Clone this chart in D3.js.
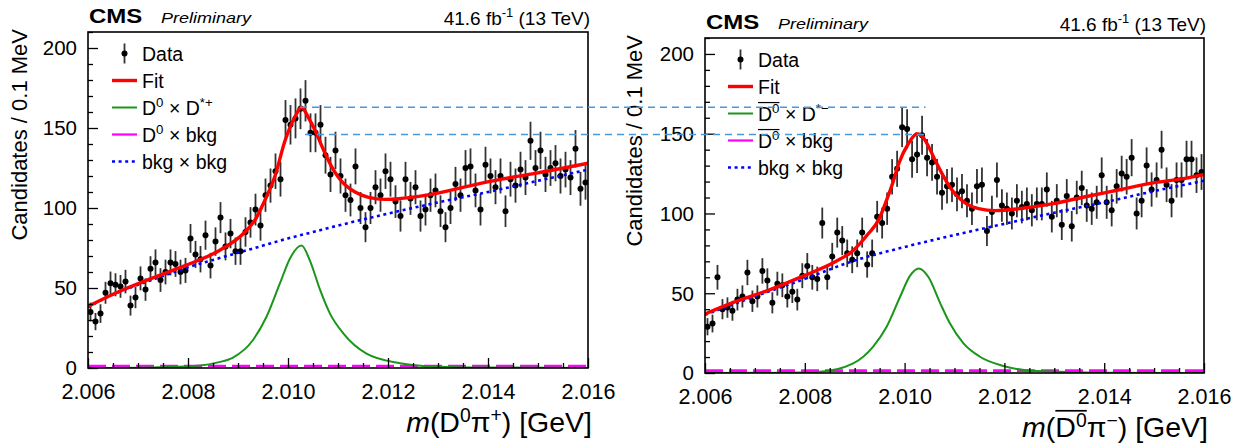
<!DOCTYPE html>
<html><head><meta charset="utf-8">
<script src="https://cdn.jsdelivr.net/npm/d3@7"></script>
<style>
html,body{margin:0;padding:0;background:#fff;}
svg{display:block;}
text{font-family:"Liberation Sans",Arial,Helvetica,sans-serif;fill:#000;}
</style></head><body>
<svg id="c" width="1252" height="447"></svg>
<script>
// ---------------- data ----------------
const massLow = 2.006, massHigh = 2.016, binWidth = 0.0001;
const yMax = 210;

// candidates per 0.1 MeV bin, D0 pi+ (left)
const countsPlus = [35,29,34,47,53,52,51,54,39,44, 56,49,62,66,55,60,66,65,60,61,
  81,71,68,83,64,79,94,76,84,73, 73,85,91,99,89,108,114,123,118,155,
  152,156,162,167,147,147,152,133,121,136, 120,108,105,126,100,88,100,113,108,123,
  118,104,95,118,106,113,95,99,108,111, 98,88,100,115,108,125,126,111,99,127,
  120,113,120,98,118,114,124,119,142,125, 136,121,125,128,120,124,119,137,112,116];
// candidates per 0.1 MeV bin, anti-D0 pi- (right)
const countsMinus = [29,31,60,40,41,39,46,48,63,45, 48,64,58,44,56,55,48,51,46,61,
  67,60,59,94,60,73,88,83,75,71, 75,88,68,75,98,94,103,123,128,154,
  153,134,137,149,135,132,123,113,117,118, 112,114,108,103,117,118,89,101,121,105,
  103,100,108,104,106,102,106,106,115,98, 108,93,111,92,110,116,105,103,107,124,
  107,102,117,125,123,135,100,108,130,115, 121,140,118,108,121,121,134,134,124,126];

// fit components, [mass, candidates]
const fitPlus = [[2.0060,38.5],[2.0066,47.5],[2.00727,56],[2.00794,64],[2.0086,73],[2.00914,85],
  [2.00934,92.5],[2.00954,105],[2.00974,120],[2.00994,142],[2.01014,157],[2.01027,163],[2.01040,157],
  [2.01055,148],[2.01070,137],[2.01087,126],[2.01100,119.5],[2.01114,114.5],[2.01134,110],[2.01161,106.7],
  [2.01194,105.4],[2.01227,106],[2.01294,109],[2.01361,113.7],[2.01427,118],[2.01494,121.6],[2.0160,128]];
const sigPlus = [[2.0060,0],[2.0070,0.2],[2.0078,0.8],[2.00824,1.5],[2.0086,3.5],[2.0089,6.5],[2.0093,17.5],
  [2.00957,32],[2.00984,53],[2.01004,68.5],[2.01027,76.5],[2.01044,67],[2.01064,49],[2.01084,34],
  [2.01111,21.5],[2.01157,9],[2.01224,3],[2.0129,1],[2.0140,0.3],[2.0160,0]];
const misPlus = [[2.006,1.2],[2.016,1.2]];
const bkgPlus = [[2.006,38],[2.0065,46],[2.007,52],[2.0075,57.5],[2.008,63],[2.0085,67.5],[2.009,72],
  [2.0095,76.5],[2.010,81],[2.0105,85],[2.011,89],[2.012,96.5],[2.013,103.5],[2.014,110],[2.015,117],[2.016,124]];

const fitMinus = [[2.0060,37],[2.00661,44.7],[2.00728,52],[2.00794,60.4],[2.00861,69.8],[2.00894,76],
  [2.00928,87.6],[2.00948,96],[2.00961,106],[2.00975,118],[2.00988,131],[2.01008,144],[2.01025,150],
  [2.01035,148.5],[2.01048,142],[2.01061,133.5],[2.01075,125],[2.01092,116],[2.01105,111],[2.01122,106.5],
  [2.01148,103],[2.01182,101.8],[2.01228,103],[2.01295,106],[2.01362,110.5],[2.01428,114.7],[2.01495,119],
  [2.01562,122],[2.0160,124.5]];
const sigMinus = [[2.0060,0],[2.0075,0.1],[2.0083,0.8],[2.00897,6],[2.00937,16.5],[2.00964,29],[2.00991,47.8],
  [2.01011,61],[2.01028,65.5],[2.01048,60],[2.01071,44],[2.01091,31],[2.01118,18.6],[2.01151,10.2],
  [2.01198,4.4],[2.01265,1.2],[2.0140,0.2],[2.0160,0]];
const misMinus = [[2.006,1.5],[2.016,1.5]];
const bkgMinus = [[2.006,36.5],[2.007,48],[2.008,59],[2.009,70.5],[2.010,79],[2.011,86.5],[2.012,93.5],
  [2.013,100.5],[2.014,107],[2.015,114],[2.016,120.5]];

// peak-height guide lines: mass start (left panel) to mass end (right panel), level in that panel's units
const guideUpper = {from: 2.01024, to: 2.01042, level: 163, panel: 0};
const guideLower = {from: 2.01034, to: 2.01040, level: 149.5, panel: 1};

const xTicksMajor = [2.006, 2.008, 2.010, 2.012, 2.014, 2.016];
const xTickLabels = ["2.006","2.008","2.010","2.012","2.014","2.016"];
const yTicksMajor = [0, 50, 100, 150, 200];
const yTickLabels = ["0","50","100","150","200"];

const yTitle = "Candidates / 0.1 MeV";
const lumiText = [{t:"41.6 fb"},{t:"-1",sup:true},{t:" (13 TeV)"}];
const legendPlus = [
  [{t:"Data"}], [{t:"Fit"}],
  [{t:"D"},{t:"0",sup:true},{t:" × D"},{t:"*+",sup:true}],
  [{t:"D"},{t:"0",sup:true},{t:" × bkg"}],
  [{t:"bkg × bkg"}]];
const legendMinus = [
  [{t:"Data"}], [{t:"Fit"}],
  [{t:"D",bar:true},{t:"0",sup:true,bar:true},{t:" × D"},{t:"*−",sup:true}],
  [{t:"D",bar:true},{t:"0",sup:true,bar:true},{t:" × bkg"}],
  [{t:"bkg × bkg"}]];
const xTitlePlus = [{t:"m",it:true},{t:"(D"},{t:"0",sup:true},{t:"π"},{t:"+",sup:true},{t:") [GeV]"}];
const xTitleMinus = [{t:"m",it:true},{t:"("},{t:"D",bar:true},{t:"0",sup:true,bar:true},{t:"π"},{t:"−",sup:true},{t:") [GeV]"}];

// ---------------- style / layout ----------------
const C = {fit:"#ff0000", sig:"#1a961a", mis:"#ff00ff", bkg:"#0000ff", guide:"#4a98dc", err:"#333333"};
const panels = [
  {counts: countsPlus, fit: fitPlus, sig: sigPlus, mis: misPlus, bkg: bkgPlus, legend: legendPlus, xTitle: xTitlePlus,
   xr:[88,588], yr:[368,32], legX:[24,49,54], titleDx:-61},
  {counts: countsMinus, fit: fitMinus, sig: sigMinus, mis: misMinus, bkg: bkgMinus, legend: legendMinus, xTitle: xTitleMinus,
   xr:[705,1204], yr:[373,38], legX:[23,48,53], titleDx:-63}
];

const svg = d3.select("#c");

function rich(parent, x, y, segs, size, o = {}) {
  const sx = o.sx || 1;
  const raise = size * (o.raise || 0.4);
  const g = parent.append("g").attr("transform", `translate(${x},${y}) rotate(${o.rotate||0}) scale(${sx},1)`);
  const t = g.append("text").attr("font-size", size).attr("text-anchor", o.anchor || "start");
  if (o.weight) t.attr("font-weight", o.weight);
  if (o.style) t.attr("font-style", o.style);
  let raised = false, idx = 0; const barIdx = [];
  segs.forEach(s => {
    const sp = t.append("tspan").text(s.t);
    if (s.sup) { sp.attr("font-size", size * 0.68); if (!raised) { sp.attr("dy", -raise); raised = true; } }
    else if (raised) { sp.attr("dy", raise); raised = false; }
    if (s.it) sp.attr("font-style", "italic");
    if (s.bar) for (let k = 0; k < s.t.length; k++) barIdx.push(idx + k);
    idx += s.t.length;
  });
  if (barIdx.length) {
    const n = t.node();
    const x0 = n.getStartPositionOfChar(barIdx[0]).x;
    const x1 = n.getEndPositionOfChar(barIdx[barIdx.length - 1]).x;
    g.append("line").attr("x1", x0).attr("x2", x1)
      .attr("y1", -size * 0.92).attr("y2", -size * 0.92)
      .attr("stroke", "#000").attr("stroke-width", Math.max(1.2, size * 0.06));
  }
  return g;
}

const scales = [];
panels.forEach((p, pi) => {
  const x = d3.scaleLinear().domain([massLow, massHigh]).range(p.xr);
  const y = d3.scaleLinear().domain([0, yMax]).range(p.yr);
  scales.push({x, y});
  const g = svg.append("g");
  const clipId = "clip" + pi;
  svg.append("clipPath").attr("id", clipId).append("rect")
    .attr("x", p.xr[0]).attr("y", p.yr[1]).attr("width", p.xr[1] - p.xr[0]).attr("height", p.yr[0] - p.yr[1]);

  const plot = g.append("g").attr("clip-path", `url(#${clipId})`);
  const centers = p.counts.map((c, i) => massLow + binWidth * (i + 0.5));

  // data with Poisson error bars
  plot.append("g").selectAll("line").data(p.counts).join("line")
    .attr("x1", (d, i) => x(centers[i])).attr("x2", (d, i) => x(centers[i]))
    .attr("y1", d => y(d - Math.sqrt(d))).attr("y2", d => y(d + Math.sqrt(d)))
    .attr("stroke", C.err).attr("stroke-width", 1.8);
  plot.append("g").selectAll("circle").data(p.counts).join("circle")
    .attr("cx", (d, i) => x(centers[i])).attr("cy", d => y(d)).attr("r", 3).attr("fill", "#000");

  const line = d3.line().x(d => x(d[0])).y(d => y(d[1])).curve(d3.curveMonotoneX);
  plot.append("path").attr("d", line(p.bkg)).attr("fill", "none").attr("stroke", C.bkg)
    .attr("stroke-width", 2.6).attr("stroke-dasharray", "3,3.6");
  plot.append("path").attr("d", line(p.mis)).attr("fill", "none").attr("stroke", C.mis)
    .attr("stroke-width", 2.6).attr("stroke-dasharray", "18,6");
  plot.append("path").attr("d", line(p.sig)).attr("fill", "none").attr("stroke", C.sig).attr("stroke-width", 2);
  plot.append("path").attr("d", line(p.fit)).attr("fill", "none").attr("stroke", C.fit).attr("stroke-width", 3.4);

  // axes
  const xMinor = d3.range(0, 21).map(k => massLow + 0.0005 * k).filter(v => !xTicksMajor.some(m => Math.abs(m - v) < 1e-9));
  const yMinor = d3.range(0, yMax + 1, 10).filter(v => !yTicksMajor.includes(v));
  const ax = g.append("g").attr("transform", `translate(0,${p.yr[0]})`);
  ax.append("g").call(d3.axisBottom(x).tickValues(xMinor).tickSize(-5).tickFormat(""));
  ax.append("g").call(d3.axisBottom(x).tickValues(xTicksMajor).tickSize(-10).tickFormat((d, i) => xTickLabels[i]));
  const ay = g.append("g").attr("transform", `translate(${p.xr[0]},0)`);
  ay.append("g").call(d3.axisLeft(y).tickValues(yMinor).tickSize(-5).tickFormat(""));
  ay.append("g").call(d3.axisLeft(y).tickValues(yTicksMajor).tickSize(-10).tickFormat((d, i) => yTickLabels[i]));
  g.selectAll(".domain").remove();
  g.selectAll(".tick line").attr("stroke", "#000").attr("stroke-width", 1.3);
  ax.selectAll(".tick text").attr("font-size", 21.5).attr("y", 31).attr("dy", 0)
    .attr("font-family", '"Liberation Sans",Arial,sans-serif').attr("fill", "#000");
  ay.selectAll(".tick text").attr("font-size", 20.5).attr("x", -11).attr("dy", "0.34em")
    .attr("font-family", '"Liberation Sans",Arial,sans-serif').attr("fill", "#000");

  // frame
  g.append("rect").attr("x", p.xr[0]).attr("y", p.yr[1]).attr("width", p.xr[1] - p.xr[0])
    .attr("height", p.yr[0] - p.yr[1]).attr("fill", "none").attr("stroke", "#000").attr("stroke-width", 1.6);

  // titles
  rich(g, p.xr[0] + p.titleDx, p.yr[1] - 3, [{t: yTitle}], 22, {anchor: "end", rotate: -90});
  rich(g, p.xr[1] + 4, p.yr[0] + 64, p.xTitle, 28.5, {anchor: "end", raise: 0.34});
  rich(g, p.xr[0] + 1, p.yr[1] - 9, [{t: "CMS"}], 20, {weight: "bold", sx: 1.2});
  rich(g, p.xr[0] + 73, p.yr[1] - 9.5, [{t: "Preliminary"}], 15, {style: "italic", sx: 1.2});
  rich(g, p.xr[1] + 2, p.yr[1] - 7, lumiText, 19, {anchor: "end"});

  // legend
  const lx0 = p.xr[0] + p.legX[0], lx1 = p.xr[0] + p.legX[1], tx = p.xr[0] + p.legX[2];
  const rows = p.legend.map((segs, k) => ({segs, cy: p.yr[1] + 21.5 + 27 * k}));
  const lg = g.append("g");
  lg.append("line").attr("x1", (lx0 + lx1) / 2).attr("x2", (lx0 + lx1) / 2)
    .attr("y1", rows[0].cy - 10).attr("y2", rows[0].cy + 10).attr("stroke", C.err).attr("stroke-width", 1.8);
  lg.append("circle").attr("cx", (lx0 + lx1) / 2).attr("cy", rows[0].cy).attr("r", 3).attr("fill", "#000");
  const sym = [null, {c: C.fit, w: 3.4, d: null}, {c: C.sig, w: 2, d: null}, {c: C.mis, w: 2.2, d: null}, {c: C.bkg, w: 2.6, d: "3,3.6"}];
  sym.forEach((s, k) => {
    if (!s) return;
    const l = lg.append("line").attr("x1", lx0).attr("x2", lx1).attr("y1", rows[k].cy).attr("y2", rows[k].cy)
      .attr("stroke", s.c).attr("stroke-width", s.w);
    if (s.d) l.attr("stroke-dasharray", s.d);
  });
  rows.forEach(r => rich(lg, tx, r.cy + 7, r.segs, 19.5));
});

// peak-height guide lines spanning both panels
[guideUpper, guideLower].forEach(gd => {
  const yy = scales[gd.panel].y(gd.level);
  svg.append("line").attr("x1", scales[0].x(gd.from)).attr("x2", scales[1].x(gd.to))
    .attr("y1", yy).attr("y2", yy).attr("stroke", C.guide).attr("stroke-width", 1.5)
    .attr("stroke-dasharray", "7,5");
});
</script>
</body></html>
